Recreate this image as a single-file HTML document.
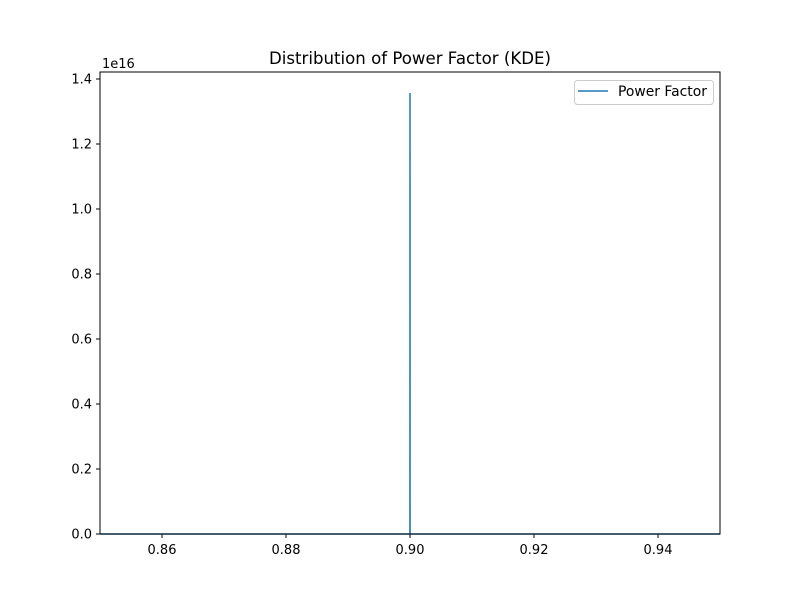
<!DOCTYPE html>
<html><head><meta charset="utf-8"><style>
body{margin:0;background:#fff;}
svg text{font-family:"DejaVu Sans","Liberation Sans",sans-serif;fill:#000;}
</style></head><body>
<svg id="chart" width="800" height="600" xmlns="http://www.w3.org/2000/svg">
<rect width="800" height="600" fill="#fff"/>
<text x="410" y="64" font-size="16.6" text-anchor="middle">Distribution of Power Factor (KDE)</text>
<g id="xt"></g><g id="yt"></g>
<path id="line" fill="none" stroke="#1f77b4" stroke-width="1.5"/>
<rect x="100" y="72" width="620" height="462" fill="none" stroke="#000" stroke-width="1"/>
<text x="102" y="68" font-size="13">1e16</text>
<g>
<rect x="574.5" y="80.5" width="139" height="24" rx="3" fill="#fff" stroke="#ccc"/>
<line x1="578" y1="91" x2="608" y2="91" stroke="#1f77b4" stroke-width="1.5"/>
<text x="618" y="96" font-size="13.9">Power Factor</text>
</g>
</svg>
<script>
const xs=[0.85,0.89999,0.9,0.90001,0.95];
const ys=[0,0,1.357e16,0,0];
const xTicks=[0.86,0.88,0.90,0.92,0.94];
const xTickLabels=["0.86","0.88","0.90","0.92","0.94"];
const yTicks=[0,0.2e16,0.4e16,0.6e16,0.8e16,1.0e16,1.2e16,1.4e16];
const yTickLabels=["0.0","0.2","0.4","0.6","0.8","1.0","1.2","1.4"];
const X0=0.85,X1=0.95,Y0=0,Y1=1.4215e16;
const sx=v=>100+(v-X0)/(X1-X0)*620;
const sy=v=>534-(v-Y0)/(Y1-Y0)*462;
const NS="http://www.w3.org/2000/svg";
const line=document.getElementById('line');
line.setAttribute('d',xs.map((x,i)=>(i?'L':'M')+sx(x).toFixed(2)+','+sy(ys[i]).toFixed(2)).join(''));
const xt=document.getElementById('xt');
xTicks.forEach((t,i)=>{
 const l=document.createElementNS(NS,'line');
 l.setAttribute('x1',sx(t));l.setAttribute('x2',sx(t));l.setAttribute('y1',534);l.setAttribute('y2',538);l.setAttribute('stroke','#000');
 
 
 xt.appendChild(l);
 const tx=document.createElementNS(NS,'text');
 tx.setAttribute('x',sx(t));tx.setAttribute('y',554);tx.setAttribute('font-size','13');tx.setAttribute('text-anchor','middle');
 tx.textContent=xTickLabels[i];
 
 
 xt.appendChild(tx);
});
const yt=document.getElementById('yt');
yTicks.forEach((t,i)=>{
 const l=document.createElementNS(NS,'line');
 l.setAttribute('x1',96);l.setAttribute('x2',100);l.setAttribute('y1',sy(t));l.setAttribute('y2',sy(t));l.setAttribute('stroke','#000');
 
 
 yt.appendChild(l);
 const tx=document.createElementNS(NS,'text');
 tx.setAttribute('x',92);tx.setAttribute('y',sy(t)+4.5);tx.setAttribute('font-size','13');tx.setAttribute('text-anchor','end');
 tx.textContent=yTickLabels[i];
 
 
 yt.appendChild(tx);
});
</script>
</body></html>
